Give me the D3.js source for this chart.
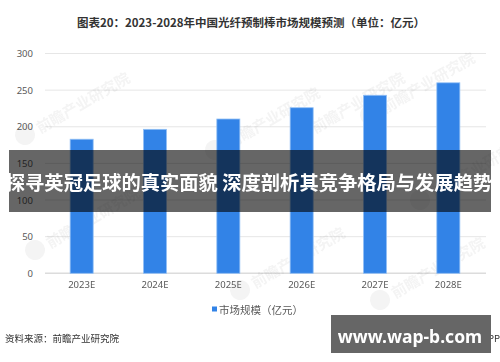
<!DOCTYPE html>
<html>
<head>
<meta charset="utf-8">
<script src="https://cdn.jsdelivr.net/npm/d3@7"></script>
<style>
  body { margin: 0; background: #fff; }
  svg text { font-family: "Noto Sans CJK SC", "Noto Sans", sans-serif; }
</style>
</head>
<body>
<div class="chart"></div>
<script>
var years = ["2023E", "2024E", "2025E", "2026E", "2027E", "2028E"];
var marketSize = [183, 196.5, 210.6, 226, 243, 260];
var yTicks = [0, 50, 100, 150, 200, 250, 300];
var titleText = "图表20：2023-2028年中国光纤预制棒市场规模预测（单位：亿元）";
var legendText = "市场规模（亿元）";
var sourceText = "资料来源：前瞻产业研究院";
var bannerText = "探寻英冠足球的真实面貌 深度剖析其竞争格局与发展趋势";
var siteText = "www.wap-b.com";

var width = 500, height = 362;

var svg = d3.select(".chart").append("svg")
    .attr("width", width)
    .attr("height", height);

// scales
var x = d3.scaleBand()
    .domain(years)
    .range([45, 485])
    .paddingInner(0.686)
    .paddingOuter(0.343);

var y = d3.scaleLinear()
    .domain([0, 300])
    .range([273.3, 53.5]);

// title
svg.append("text")
    .attr("x", 251)
    .attr("y", 22)
    .attr("text-anchor", "middle")
    .attr("dominant-baseline", "central")
    .attr("font-size", 11.5)
    .attr("font-weight", "bold")
    .attr("fill", "#333")
    .text(titleText);

// gridlines
svg.append("g").selectAll("line")
    .data(yTicks)
    .enter().append("line")
    .attr("x1", 45)
    .attr("x2", 486)
    .attr("y1", function(d) { return y(d); })
    .attr("y2", function(d) { return y(d); })
    .attr("stroke", function(d) { return d === 0 ? "#dcdcdc" : "#e6e6e6"; })
    .attr("stroke-width", function(d) { return d === 0 ? 1.5 : 1; });

// y axis labels
var yAxis = d3.axisLeft(y).tickValues(yTicks).tickSize(0).tickPadding(0);
var yg = svg.append("g")
    .attr("transform", "translate(33,0)")
    .call(yAxis);
yg.select(".domain").remove();
yg.selectAll("text")
    .attr("font-size", 9.5)
    .attr("fill", "#595959")
    .style("font-family", "\"Noto Sans\", sans-serif");

// faint watermarks
var marks = [[25, 135], [35, 250], [215, 150], [240, 290], [300, 135], [370, 115], [380, 300], [420, 200]];
var wm = svg.append("g").attr("opacity", 0.06);
marks.forEach(function(m) {
  var g = wm.append("g").attr("transform", "translate(" + m[0] + "," + m[1] + ") rotate(-30)");
  g.append("circle").attr("cx", 0).attr("cy", 0).attr("r", 10).attr("fill", "#444");
  g.append("text").attr("x", 14).attr("y", 0)
    .attr("font-size", 15).attr("font-weight", "bold").attr("fill", "#444")
    .attr("dominant-baseline", "central")
    .text("前瞻产业研究院");
});

// bars
svg.append("g").selectAll("rect")
    .data(marketSize)
    .enter().append("rect")
    .attr("x", function(d, i) { return x(years[i]); })
    .attr("width", x.bandwidth())
    .attr("y", function(d) { return y(d); })
    .attr("height", function(d) { return y(0) - y(d); })
    .attr("fill", "#3283e7")
    .attr("stroke", "#93c0f5")
    .attr("stroke-width", 0.8);

// x axis labels
var xAxis = d3.axisBottom(x).tickSize(0).tickPadding(0);
var xg = svg.append("g")
    .attr("transform", "translate(0,281)")
    .call(xAxis);
xg.select(".domain").remove();
xg.selectAll("text")
    .attr("font-size", 9.5)
    .attr("fill", "#595959")
    .style("font-family", "\"Noto Sans\", sans-serif");

// legend
svg.append("rect")
    .attr("x", 212).attr("y", 306.5)
    .attr("width", 5).attr("height", 5)
    .attr("fill", "#3283e7");
svg.append("text")
    .attr("x", 219).attr("y", 309)
    .attr("dominant-baseline", "central")
    .attr("font-size", 10.5)
    .attr("fill", "#595959")
    .text(legendText);

// source
svg.append("text")
    .attr("x", 5).attr("y", 338)
    .attr("dominant-baseline", "central")
    .attr("font-size", 9.5)
    .attr("fill", "#333")
    .text(sourceText);
svg.append("text")
    .attr("x", 500).attr("y", 338)
    .attr("text-anchor", "end")
    .attr("dominant-baseline", "central")
    .attr("font-size", 9.5)
    .attr("fill", "#333")
    .text("前瞻经济学人APP");

// overlay banner
svg.append("rect")
    .attr("x", 9).attr("y", 150)
    .attr("width", 482).attr("height", 62)
    .attr("fill", "#000")
    .attr("opacity", 0.6);
svg.append("text")
    .attr("x", 249).attr("y", 182)
    .attr("text-anchor", "middle")
    .attr("dominant-baseline", "central")
    .attr("font-size", 19.3)
    .attr("font-weight", "bold")
    .attr("fill", "#fff")
    .text(bannerText);

// site badge
svg.append("rect")
    .attr("x", 331).attr("y", 315)
    .attr("width", 160).attr("height", 38)
    .attr("fill", "#666");
svg.append("text")
    .attr("x", 410).attr("y", 336)
    .attr("text-anchor", "middle")
    .attr("dominant-baseline", "central")
    .attr("font-size", 17.5)
    .attr("font-weight", "bold")
    .attr("fill", "#fff")
    .style("font-family", "\"Noto Sans\", sans-serif")
    .text(siteText);
</script>
</body>
</html>
